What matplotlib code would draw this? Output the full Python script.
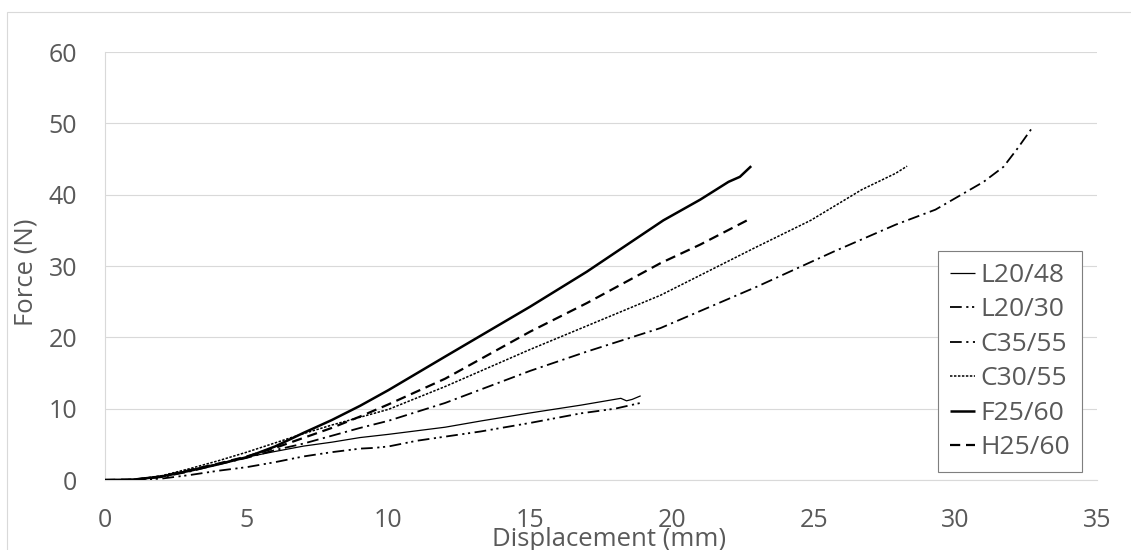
import matplotlib
matplotlib.use("Agg")
import matplotlib.pyplot as plt
from matplotlib.patches import Rectangle

# ---------------- data ----------------
l2048_x = [0, 1, 2, 3, 4, 5, 6, 7, 8, 9, 10, 11, 12, 13.3, 15, 16.8, 18.2, 18.4, 18.6, 18.9]
l2048_y = [0, 0.05, 0.5, 1.4, 2.3, 3.2, 4.0, 4.75, 5.3, 5.95, 6.4, 6.9, 7.4, 8.3, 9.4, 10.5, 11.45, 11.1, 11.3, 11.8]

l2030_x = [0, 1, 2, 3, 4, 5, 6, 7, 8, 9, 9.5, 10, 11, 13.25, 15, 16.8, 18, 19.0]
l2030_y = [0, 0, 0.2, 0.7, 1.3, 1.8, 2.5, 3.3, 3.9, 4.4, 4.5, 4.7, 5.5, 6.8, 8.0, 9.35, 10.0, 10.9]

c3555_x = [0, 1, 2, 3, 4, 5, 6, 7, 8, 9, 10, 12, 15, 17, 19.6, 23, 25.7, 27.9, 29.3, 31, 31.7, 32.2, 32.7]
c3555_y = [0, 0.05, 0.4, 1.2, 2.2, 3.1, 4.2, 5.1, 6.2, 7.3, 8.3, 10.8, 15.3, 18.0, 21.3, 27.1, 32.0, 35.8, 37.9, 41.8, 43.9, 46.5, 49.3]

c3055_x = [0, 1, 2, 3, 4, 5, 6, 7, 8, 9, 10, 12, 15, 17, 19.6, 22.9, 24.9, 26.7, 27.9, 28.3]
c3055_y = [0, 0.05, 0.6, 1.6, 2.7, 3.9, 5.2, 6.5, 7.7, 8.8, 9.9, 13.1, 18.3, 21.6, 25.9, 32.5, 36.4, 40.7, 43.0, 44.0]

f2560_x = [0, 1, 2, 3, 4, 5, 6, 7, 8, 9, 10, 12, 15, 17, 19.7, 21, 22, 22.4, 22.8]
f2560_y = [0, 0.05, 0.5, 1.3, 2.2, 3.2, 4.7, 6.6, 8.4, 10.4, 12.6, 17.3, 24.3, 29.2, 36.4, 39.3, 41.8, 42.5, 44.0]

h2560_x = [0, 1, 2, 3, 4, 5, 6, 7, 8, 9, 10, 12, 15, 17, 19.6, 21, 22.8]
h2560_y = [0, 0.05, 0.5, 1.4, 2.3, 3.3, 4.5, 5.9, 7.3, 8.9, 10.6, 14.2, 20.8, 24.8, 30.4, 33.0, 36.7]

labels = ["L20/48", "L20/30", "C35/55", "C30/55", "F25/60", "H25/60"]
x_ticks = [0, 5, 10, 15, 20, 25, 30, 35]
y_ticks = [0, 10, 20, 30, 40, 50, 60]

# ---------------- figure ----------------
W, H = 1131, 550
fig = plt.figure(figsize=(W / 100, H / 100), dpi=100)
plt.rcParams['font.family'] = ['Open Sans', 'DejaVu Sans']

ax = fig.add_axes([105 / W, 1 - 480 / H, (1097 - 105) / W, (480 - 52) / H])

grid_c = "#d9d9d9"
txt_c = "#595959"

series = [
    (l2048_x, l2048_y, dict(lw=0.9, linestyle="-")),
    (l2030_x, l2030_y, dict(lw=1.3, linestyle=(0, (6.5, 2.5, 1.2, 2.0, 1.2, 2.5)))),
    (c3555_x, c3555_y, dict(lw=1.3, linestyle=(0, (6.5, 2.5, 1.2, 2.5)))),
    (c3055_x, c3055_y, dict(lw=1.1, linestyle=(0, (1.6, 1.0)))),
    (f2560_x, f2560_y, dict(lw=1.8, linestyle="-")),
    (h2560_x, h2560_y, dict(lw=1.6, linestyle=(0, (4.6, 2.6)))),
]
for (xs, ys, st), lab in zip(series, labels):
    ax.plot(xs, ys, color="black", label=lab, solid_capstyle="butt",
            dash_capstyle="butt", zorder=3, **st)

ax.set_xlim(0, 35)
ax.set_ylim(0, 60)
ax.set_xticks(x_ticks)
ax.set_yticks(y_ticks)
ax.tick_params(axis="both", length=0, labelsize=18, labelcolor=txt_c)
ax.tick_params(axis="x", pad=20)
ax.tick_params(axis="y", pad=20)
ax.grid(axis="y", color=grid_c, lw=0.8, zorder=0)
ax.set_axisbelow(True)
for s in ["top", "right"]:
    ax.spines[s].set_visible(False)
for s in ["left", "bottom"]:
    ax.spines[s].set_color(grid_c)
    ax.spines[s].set_linewidth(0.8)

ax.set_xlabel("Displacement (mm)", fontsize=18.5, color=txt_c)
ax.xaxis.label.set_va("center")
ax.xaxis.set_label_coords((609 - 105) / 992, (480 - 539) / 428)
ax.set_ylabel("Force (N)", fontsize=18.5, color=txt_c)
ax.yaxis.label.set_va("center")
ax.yaxis.set_label_coords((26 - 105) / 992, (480 - 272) / 428)

leg = ax.legend(loc="upper left", bbox_to_anchor=(938 / W, 1 - 251 / H),
                bbox_transform=fig.transFigure, borderaxespad=0,
                fontsize=19, handlelength=0.95, handletextpad=0.2,
                labelspacing=0.36, borderpad=0.45, fancybox=False,
                framealpha=1, edgecolor="#7f7f7f")
leg.get_frame().set_linewidth(0.8)
for t in leg.get_texts():
    t.set_color(txt_c)

# outer chart border
fig.patches.append(Rectangle((7 / W, -0.1), 1.2, 1 - 12 / H + 0.1,
                             transform=fig.transFigure, fill=False,
                             edgecolor=grid_c, lw=0.8, zorder=0))

fig.savefig("out.png", dpi=100)
